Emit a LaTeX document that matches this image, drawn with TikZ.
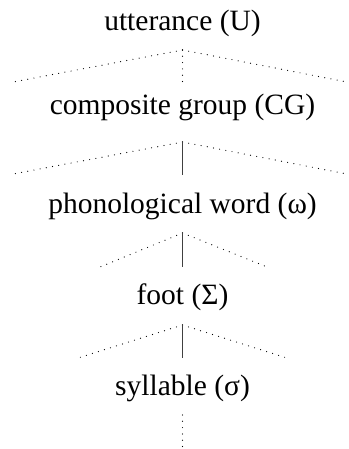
\documentclass[tikz,border=0pt]{standalone}
\usepackage{fontspec}
\setmainfont{Liberation Serif}
\begin{document}
\begin{tikzpicture}[x=1pt,y=-1pt,
  lbl/.style={anchor=base,inner sep=0pt,font=\fontsize{29.5}{34}\selectfont},
  dotline/.style={line width=1.2pt,line cap=round,dash pattern=on 0pt off 6.3pt,black},
  solidline/.style={line width=1pt,black!75}]
\useasboundingbox (0,0) rectangle (348,449);
\node[lbl] (u) at (182.5,31) {utterance (U)};
\node[lbl] (cg) at (182.5,115) {composite group (CG)};
\node[lbl] (w) at (182.5,213) {phonological word (ω)};
\node[lbl] (f) at (182.5,304) {foot (Σ)};
\node[lbl] (s) at (182.5,395) {syllable (σ)};
% level 1
\coordinate (a1) at (182.5,50);
\coordinate (l1) at (13,82);
\coordinate (r1) at (347,82);
\coordinate (b1) at (182.5,82);
\draw[dotline] (a1) -- (l1);
\draw[dotline] (a1) -- (r1);
\draw[dotline] (a1) -- (b1);
% level 2
\coordinate (a2) at (182.5,142);
\coordinate (l2) at (13,174);
\coordinate (r2) at (347,174);
\coordinate (b2) at (182.5,175);
\draw[dotline] (a2) -- (l2);
\draw[dotline] (a2) -- (r2);
\draw[solidline] (a2) -- (b2);
% level 3
\coordinate (a3) at (182.5,233);
\coordinate (l3) at (100,267);
\coordinate (r3) at (267,267);
\coordinate (b3) at (182.5,267);
\draw[dotline] (a3) -- (l3);
\draw[dotline] (a3) -- (r3);
\draw[solidline] (a3) -- (b3);
% level 4
\coordinate (a4) at (182.5,325);
\coordinate (l4) at (78,358);
\coordinate (r4) at (287,358);
\coordinate (b4) at (182.5,358);
\draw[dotline] (a4) -- (l4);
\draw[dotline] (a4) -- (r4);
\draw[solidline] (a4) -- (b4);
% bottom
\coordinate (a5) at (182.5,415);
\coordinate (b5) at (182.5,449);
\draw[dotline] (a5) -- (b5);
\end{tikzpicture}
\end{document}
